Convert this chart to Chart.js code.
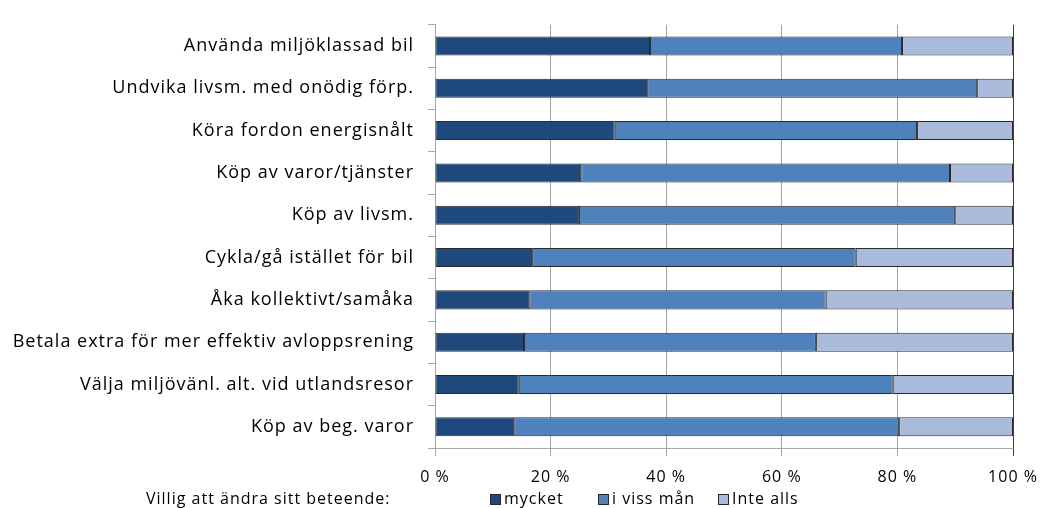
<!DOCTYPE html>
<html>
<head>
<meta charset="utf-8">
<script src="https://cdn.jsdelivr.net/npm/chart.js@4/dist/chart.umd.min.js"></script>
<style>
  html, body { margin: 0; padding: 0; background: #fff; }
  #wrap { width: 1041px; height: 508px; }
</style>
</head>
<body>
<div id="wrap"><canvas id="myBarChart" width="1041" height="508"></canvas></div>
<script>
const categories = [
    'Använda miljöklassad bil',
    'Undvika livsm. med onödig förp.',
    'Köra fordon energisnålt',
    'Köp av varor/tjänster',
    'Köp av livsm.',
    'Cykla/gå istället för bil',
    'Åka kollektivt/samåka',
    'Betala extra för mer effektiv avloppsrening',
    'Välja miljövänl. alt. vid utlandsresor',
    'Köp av beg. varor'
];
const mycket   = [37.2, 36.7, 31.1, 25.3, 24.9, 16.8, 16.3, 15.4, 14.5, 13.7];
const vissMan  = [43.6, 57.1, 52.3, 63.8, 65.1, 56.0, 51.3, 50.5, 64.7, 66.6];
const inteAlls = [19.2, 6.2, 16.6, 10.9, 10.0, 27.2, 32.4, 34.1, 20.8, 19.7];
const xTicks = [0, 20, 40, 60, 80, 100];
const legendTitle = 'Villig att ändra sitt beteende:';

const font = 'Open Sans';

// the original text is a bit spread out
const spacing = {
    id: 'spacing',
    beforeUpdate(chart) { chart.ctx.letterSpacing = '1px'; },
    beforeDraw(chart) { chart.ctx.letterSpacing = '1px'; }
};

// legend drawn by hand so the title can sit to its left
const customLegend = {
    id: 'customLegend',
    afterDraw(chart) {
        const c = chart.ctx;
        const y = 499;
        c.save();
        c.letterSpacing = '1px';
        c.font = '16px ' + font;
        c.fillStyle = '#000';
        c.textBaseline = 'middle';
        c.textAlign = 'left';
        c.fillText(legendTitle, 146, y);
        const boxX = [490, 598, 718];
        chart.data.datasets.forEach((ds, i) => {
            c.fillStyle = ds.backgroundColor;
            c.fillRect(boxX[i], y - 5, 11, 11);
            c.strokeStyle = '#262626';
            c.lineWidth = 1;
            c.strokeRect(boxX[i] + 0.5, y - 4.5, 10, 10);
            c.fillStyle = '#000';
            c.fillText(ds.label, boxX[i] + 14, y);
        });
        c.restore();
    }
};

const ctx = document.getElementById('myBarChart').getContext('2d');

const myBarChart = new Chart(ctx, {
    type: 'bar',
    data: {
        labels: categories,
        datasets: [
            { label: 'mycket', data: mycket, backgroundColor: '#1f497d' },
            { label: 'i viss mån', data: vissMan, backgroundColor: '#4f81bd' },
            { label: 'Inte alls', data: inteAlls, backgroundColor: '#a9badb' }
        ].map(d => Object.assign(d, {
            borderColor: '#2b2b2b',
            borderWidth: 1,
            borderSkipped: false,
            barPercentage: 0.45,
            categoryPercentage: 1
        }))
    },
    options: {
        indexAxis: 'y',
        responsive: false,
        maintainAspectRatio: false,
        animation: false,
        layout: { padding: { top: 12, right: 28, bottom: 20, left: 0 } },
        plugins: {
            legend: { display: false },
            tooltip: { enabled: false }
        },
        scales: {
            x: {
                stacked: true,
                min: 0,
                max: 100,
                afterBuildTicks: s => { s.ticks = xTicks.map(v => ({ value: v })); },
                afterFit: s => {
                    s.height = 40;
                    s.paddingLeft = 0;
                    s.paddingRight = 0;
                },
                grid: {
                    color: ctx => ctx.tick && ctx.tick.value === 100 ? '#404040' : '#a6a6a6',
                    tickLength: 8,
                    lineWidth: 1
                },
                border: { color: '#a6a6a6' },
                ticks: {
                    color: '#000',
                    font: { family: font, size: 16 },
                    padding: 12,
                    maxRotation: 0,
                    callback: v => v + ' %'
                }
            },
            y: {
                stacked: true,
                afterFit: s => { s.width = 435; },
                grid: {
                    drawOnChartArea: false,
                    offset: true,
                    tickLength: 7,
                    color: '#a6a6a6'
                },
                border: { color: '#a6a6a6' },
                ticks: {
                    color: '#000',
                    font: { family: font, size: 18 },
                    padding: 14
                }
            }
        }
    },
    plugins: [spacing, customLegend]
});
</script>
</body>
</html>
